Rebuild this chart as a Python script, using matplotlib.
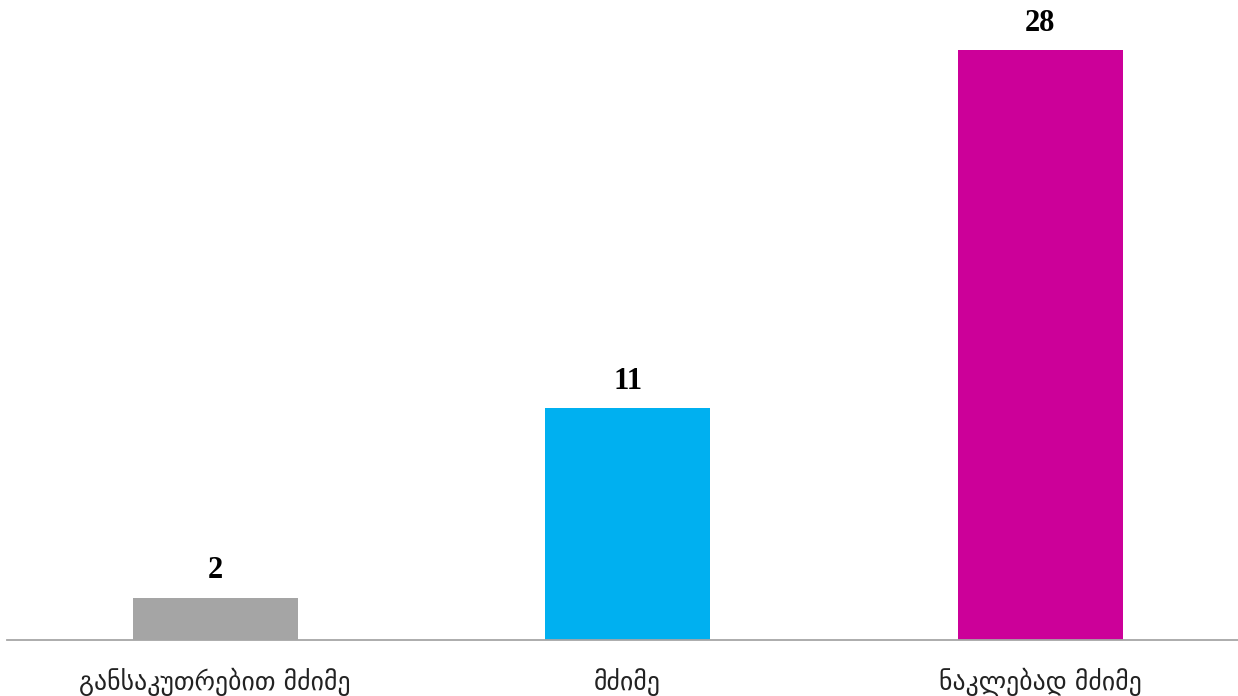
import matplotlib.pyplot as plt
import numpy as np

categories = ["განსაკუთრებით მძიმე", "მძიმე", "ნაკლებად მძიმე"]
values = [2, 11, 28]
colors = ["#A5A5A5", "#00B0F0", "#CC0099"]


def main():
    fig = plt.figure(figsize=(12.38, 6.96), dpi=100)
    ax = fig.add_axes([0.006, 0.0805, 0.994, 0.908])
    x = np.arange(len(categories))
    bars = ax.bar(x, values, width=0.4, color=colors)

    # value labels above bars
    for b, v in zip(bars, values):
        ax.annotate(str(v), (b.get_x() + b.get_width() / 2, v),
                    xytext=(0, 14), textcoords="offset points",
                    ha="center", va="baseline", fontsize=22, fontweight="bold",
                    family=["Liberation Serif", "DejaVu Serif"])

    ax.set_xlim(-0.504, 2.48)
    ax.set_ylim(0, 30)
    ax.set_xticks(x)
    ax.set_xticklabels(categories, fontsize=18.5, family=["DejaVu Sans"])
    ax.tick_params(axis="x", length=0, pad=20, colors="#222222")
    ax.set_yticks([])
    for s in ["top", "right", "left"]:
        ax.spines[s].set_visible(False)
    ax.spines["bottom"].set_color("#A6A6A6")
    ax.spines["bottom"].set_linewidth(1.3)

    fig.savefig("out.png", dpi=100)


if __name__ == '__main__':
    main()
